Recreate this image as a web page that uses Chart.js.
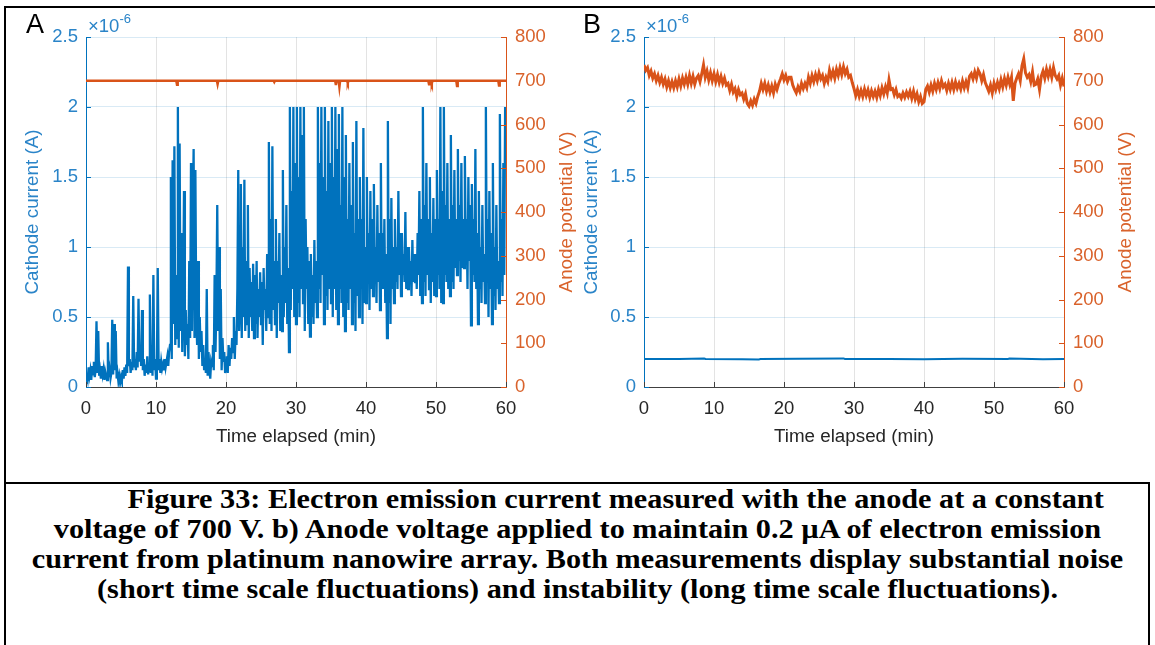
<!DOCTYPE html>
<html>
<head>
<meta charset="utf-8">
<script src="https://cdn.jsdelivr.net/npm/chart.js@4/dist/chart.umd.min.js"></script>
<style>
  html, body { margin: 0; padding: 0; background: #fff; }
  #page { position: relative; width: 1155px; height: 645px; overflow: hidden; background: #fff; }
  .rule { position: absolute; background: #000; }
  canvas { position: absolute; top: 0; }
  #chartA { left: 0; }
  #chartB { left: 560px; }
  #caption {
    position: absolute; left: 5px; top: 484px; width: 1145px;
    font-family: "Liberation Serif", "Times New Roman", serif;
    font-weight: bold; font-size: 27px; line-height: 30px;
    text-align: center; text-indent: 68px; color: #000;
    transform: scaleX(1.12); transform-origin: 50% 0;
  }
</style>
</head>
<body>
<div id="page">
  <div class="rule" style="left:5px; top:6px; width:1150px; height:2px;"></div>
  <div class="rule" style="left:4px; top:6px; width:2px; height:639px;"></div>
  <div class="rule" style="left:5px; top:482px; width:1145px; height:2px;"></div>
  <div class="rule" style="left:1148px; top:482px; width:2px; height:163px;"></div>
  <canvas id="chartA" width="600" height="470"></canvas>
  <canvas id="chartB" width="595" height="470"></canvas>
  <div id="caption">Figure 33: Electron emission current measured with the anode at a constant<br>voltage of 700 V. b) Anode voltage applied to maintain 0.2 µA of electron emission<br>current from platinum nanowire array. Both measurements display substantial noise<br>(short time scale fluctuations) and instability (long time scale fluctuations).</div>
</div>
<script>
// sampling interval of the cathode trace in A, minutes
var stepA = 0.125;
// sampling interval of the anode trace in B, minutes
var stepB = 0.25;

// tick values
var timeTicks = [0, 10, 20, 30, 40, 50, 60];
var currentTicks = [0, 0.5, 1, 1.5, 2, 2.5];
var voltageTicks = [0, 100, 200, 300, 400, 500, 600, 700, 800];

// A: cathode current (x1e-6 A) with the anode held at 700 V, one row per minute
var cathodeA = [
  0.03, 0.10, 0.06, 0.14, 0.08, 0.12, 0.05, 0.15,
  0.09, 0.18, 0.07, 0.12, 0.47, 0.10, 0.40, 0.08,
  0.12, 0.06, 0.15, 0.09, 0.13, 0.05, 0.11, 0.08,
  0.05, 0.32, 0.07, 0.12, 0.06, 0.10, 0.48, 0.09,
  0.45, 0.12, 0.40, 0.06, 0.10, 0.04, 0.08, 0.03,
  0.07, 0.04, 0.12, 0.06, 0.14, 0.08, 0.16, 0.10,
  0.86, 0.15, 0.20, 0.10, 0.18, 0.12, 0.65, 0.14,
  0.20, 0.12, 0.25, 0.14, 0.63, 0.18, 0.30, 0.15,
  0.55, 0.12, 0.20, 0.08, 0.16, 0.10, 0.22, 0.09,
  0.15, 0.66, 0.10, 0.25, 0.08, 0.80, 0.12, 0.20,
  0.06, 0.14, 0.85, 0.12, 0.20, 0.10, 0.18, 0.13,
  0.16, 0.12, 0.20, 0.14, 0.18, 0.22, 0.15, 0.25,
  0.30, 1.50, 0.20, 1.62, 0.45, 1.72, 0.30, 0.80,
  0.35, 2.00, 0.28, 1.74, 0.40, 1.10, 0.25, 0.60,
  1.40, 0.22, 0.55, 0.30, 0.45, 0.20, 0.90, 0.35,
  1.60, 0.40, 1.20, 1.70, 0.35, 1.55, 0.50, 0.30,
  0.90, 0.20, 0.50, 0.25, 0.40, 0.15, 0.30, 0.12,
  0.20, 0.10, 0.70, 0.08, 0.25, 0.12, 0.06, 0.18,
  0.15, 0.30, 0.12, 0.80, 0.25, 0.60, 1.30, 0.40,
  1.00, 0.20, 0.70, 0.12, 0.35, 0.18, 0.25, 0.10,
  0.14, 0.22, 0.10, 0.30, 0.15, 0.28, 0.20, 0.35,
  0.25, 0.50, 0.20, 0.40, 0.30, 0.70, 1.55, 0.40,
  0.60, 1.45, 0.35, 1.00, 0.50, 1.48, 0.40, 0.90,
  0.45, 1.30, 0.35, 0.85, 0.50, 0.75, 0.40, 0.88,
  0.35, 0.80, 0.45, 0.90, 0.35, 0.70, 0.50, 0.82,
  0.45, 0.75, 0.30, 0.85, 0.55, 0.70, 0.40, 0.95,
  0.50, 1.75, 0.45, 1.20, 0.40, 1.72, 0.55, 0.90,
  0.45, 1.20, 0.35, 0.90, 0.60, 1.10, 0.40, 0.80,
  0.40, 1.55, 0.50, 1.00, 0.60, 1.30, 0.45, 0.85,
  0.25, 2.00, 0.55, 1.40, 0.70, 2.00, 0.50, 1.60,
  0.45, 2.00, 0.60, 1.50, 0.50, 2.00, 0.70, 1.80,
  0.60, 2.00, 0.40, 1.20, 0.70, 1.00, 0.45, 0.90,
  0.36, 0.95, 0.50, 0.80, 0.45, 1.05, 0.60, 0.90,
  0.50, 2.00, 0.70, 1.60, 0.60, 2.00, 0.80, 1.50,
  0.45, 2.00, 0.65, 1.40, 0.55, 1.90, 0.70, 1.60,
  0.60, 2.00, 0.50, 1.50, 0.70, 2.00, 0.55, 1.70,
  0.45, 1.95, 0.70, 1.30, 0.60, 2.00, 0.50, 1.50,
  0.40, 1.80, 0.60, 1.20, 0.55, 1.60, 0.70, 1.30,
  0.45, 1.75, 0.60, 1.10, 0.40, 1.90, 0.65, 1.20,
  0.50, 1.50, 0.70, 1.20, 0.45, 1.85, 0.60, 1.00,
  0.60, 1.50, 0.75, 1.10, 0.55, 1.40, 0.70, 1.20,
  0.65, 1.45, 0.80, 1.00, 0.60, 1.30, 0.75, 1.10,
  0.55, 1.60, 0.70, 1.10, 0.70, 1.20, 0.60, 0.95,
  0.35, 1.90, 0.60, 1.20, 0.45, 1.35, 0.70, 1.00,
  0.60, 1.20, 0.75, 1.00, 0.70, 1.40, 0.80, 1.10,
  0.65, 1.10, 0.80, 0.95, 0.75, 1.25, 0.70, 1.00,
  0.70, 1.00, 0.80, 0.90, 0.65, 1.05, 0.75, 0.95,
  0.75, 0.95, 0.70, 1.10, 0.80, 1.40, 0.65, 1.20,
  0.60, 2.00, 0.75, 1.30, 0.65, 1.60, 0.80, 1.20,
  0.70, 1.50, 0.60, 1.10, 0.75, 1.35, 0.65, 1.20,
  0.65, 1.55, 0.80, 1.20, 0.70, 2.00, 0.60, 1.40,
  0.60, 2.00, 0.80, 1.30, 0.75, 1.60, 0.70, 1.20,
  0.65, 1.80, 0.75, 1.30, 0.70, 1.55, 0.85, 1.20,
  0.80, 1.70, 0.90, 1.30, 0.75, 1.60, 0.85, 1.20,
  0.85, 1.65, 0.95, 1.20, 0.70, 1.50, 0.90, 1.30,
  0.44, 1.45, 0.80, 1.20, 0.75, 1.70, 0.70, 1.10,
  0.45, 1.40, 0.70, 1.00, 0.60, 1.30, 0.75, 0.95,
  0.60, 2.00, 0.80, 1.20, 0.50, 1.40, 0.70, 1.10,
  0.45, 1.60, 0.65, 1.00, 0.55, 1.30, 0.70, 0.90,
  0.60, 1.95, 0.75, 1.20, 0.65, 1.60, 0.80, 2.00,
  1.55
];

// A: anode potential (V), flat at 700 apart from brief dips
var anodeTimeA = [0, 12.9, 13.0, 13.1, 18.7, 18.8, 18.9, 26.8, 26.9, 27.0, 35.6, 35.7, 35.8, 36.1, 36.2, 36.3,
  37.3, 37.4, 37.5, 48.9, 49.0, 49.1, 49.3, 49.4, 49.5, 52.9, 53.0, 53.1, 58.9, 59.0, 59.1, 60];
var anodeVoltA = [700, 700, 691, 700, 700, 692, 700, 700, 697, 700, 700, 690, 700, 700, 686, 700,
  700, 695, 700, 700, 692, 700, 700, 694, 700, 700, 688, 700, 700, 689, 700, 700];

// B: cathode current (x1e-6 A) held at 0.2
var cathodeTimeB = [0, 5, 8.6, 8.8, 14, 16.4, 16.6, 22, 28.5, 28.7, 35, 40, 45.5, 52, 52.2, 57, 60];
var cathodeB = [0.200, 0.200, 0.203, 0.200, 0.199, 0.196, 0.200, 0.201, 0.204, 0.200, 0.200, 0.199, 0.202, 0.200, 0.203, 0.199, 0.200];

// B: anode potential (V) needed to hold the current, one row per minute
var anodeB = [
  736, 724, 730, 712,
  722, 706, 716, 700,
  712, 696, 708, 692,
  704, 686, 700, 684,
  698, 684, 700, 686,
  704, 688, 706, 692,
  708, 692, 712, 694,
  710, 692, 706, 712,
  698, 716, 736, 708,
  722, 702, 718, 700,
  716, 698, 714, 696,
  710, 694, 706, 690,
  694, 678, 692, 674,
  682, 664, 680, 668,
  672, 658, 670, 648,
  642, 654, 644, 658,
  648, 664, 676, 694,
  680, 694, 676, 690,
  674, 688, 672, 692,
  680, 694, 704, 716,
  702, 712, 698, 708,
  708, 690, 680, 672,
  686, 676, 694, 682,
  694, 684, 708, 694,
  712, 698, 714, 700,
  718, 704, 712, 694,
  708, 698, 724, 708,
  722, 706, 726, 712,
  730, 714, 732, 716,
  726, 708, 712, 696,
  682, 666, 680, 664,
  678, 664, 681, 666,
  679, 662, 677, 664,
  676, 662, 680, 666,
  684, 670, 686, 672,
  702, 680, 682, 668,
  680, 664, 668, 660,
  672, 662, 674, 664,
  676, 660, 676, 658,
  670, 652, 664, 648,
  652, 680, 688, 674,
  690, 676, 694, 680,
  696, 682, 700, 686,
  692, 678, 694, 680,
  696, 680, 697, 683,
  694, 681, 699, 684,
  698, 684, 710, 716,
  704, 720, 706, 724,
  716, 700, 714, 696,
  686, 676, 690, 672,
  694, 680, 696, 682,
  702, 686, 705, 690,
  708, 692, 708, 654,
  694, 706, 716, 700,
  734, 750, 718, 708,
  714, 698, 720, 690,
  692, 704, 680, 710,
  722, 706, 726, 710,
  726, 708, 730, 712,
  704, 712, 690, 706,
  687
];

var blue = '#0072BD';
var blueText = '#2a84c8';
var orange = '#D95319';
var orangeText = '#d9622b';
var axisGray = '#404040';
var font = '"Liberation Sans", Arial, sans-serif';

function sampled(values, step) {
  return values.map(function (v, i) { return {x: i * step, y: v}; });
}
function paired(times, values) {
  return times.map(function (t, i) { return {x: t, y: values[i]}; });
}
function tickList(values) {
  return function (scale) { scale.ticks = values.map(function (v) { return {value: v}; }); };
}

// MATLAB-style inward tick marks, exponent note, panel letter and right-hand axis title
var decorations = {
  id: 'decorations',
  afterDraw: function (chart, args, opts) {
    var ctx = chart.ctx;
    var area = chart.chartArea;
    var sx = chart.scales.x, sl = chart.scales.yL, sr = chart.scales.yR;
    ctx.save();
    ctx.lineWidth = 1;
    ctx.strokeStyle = axisGray;
    timeTicks.forEach(function (t) {
      var px = Math.round(sx.getPixelForValue(t)) + 0.5;
      ctx.beginPath(); ctx.moveTo(px, area.bottom); ctx.lineTo(px, area.bottom - 5); ctx.stroke();
    });
    ctx.strokeStyle = blue;
    currentTicks.forEach(function (v) {
      var py = Math.round(sl.getPixelForValue(v)) + 0.5;
      ctx.beginPath(); ctx.moveTo(area.left, py); ctx.lineTo(area.left + 5, py); ctx.stroke();
    });
    ctx.strokeStyle = orange;
    voltageTicks.forEach(function (v) {
      var py = Math.round(sr.getPixelForValue(v)) + 0.5;
      ctx.beginPath(); ctx.moveTo(area.right, py); ctx.lineTo(area.right - 5, py); ctx.stroke();
    });

    ctx.fillStyle = blueText;
    ctx.textBaseline = 'alphabetic';
    ctx.textAlign = 'left';
    ctx.font = '18.5px ' + font;
    ctx.fillText('\u00d710', area.left + 2, 32);
    var w = ctx.measureText('\u00d710').width;
    ctx.font = '13px ' + font;
    ctx.fillText('-6', area.left + 2 + w, 23);

    ctx.fillStyle = '#000';
    ctx.font = '27px ' + font;
    ctx.fillText(opts.letter, opts.letterX, 33);

    ctx.fillStyle = orangeText;
    ctx.font = '18.8px ' + font;
    ctx.textAlign = 'center';
    ctx.textBaseline = 'middle';
    ctx.translate(opts.rightTitleX, (area.top + area.bottom) / 2);
    ctx.rotate(-Math.PI / 2);
    ctx.fillText('Anode potential (V)', 0, 0);
    ctx.restore();
  }
};

function makePanel(canvasId, p) {
  return new Chart(document.getElementById(canvasId), {
    type: 'line',
    data: {
      datasets: [{
        label: 'Anode potential',
        data: p.anode,
        yAxisID: 'yR',
        borderColor: orange,
        borderWidth: p.anodeWidth,
        pointRadius: 0,
        tension: 0,
        order: 0
      }, {
        label: 'Cathode current',
        data: p.cathode,
        yAxisID: 'yL',
        borderColor: blue,
        borderWidth: p.cathodeWidth,
        pointRadius: 0,
        tension: 0,
        order: 1
      }]
    },
    options: {
      responsive: false,
      animation: false,
      parsing: false,
      normalized: true,
      layout: {padding: {left: 0, right: 0, top: 37, bottom: 0}},
      plugins: {
        legend: {display: false},
        tooltip: {enabled: false},
        decorations: {letter: p.letter, letterX: p.letterX, rightTitleX: p.rightTitleX}
      },
      scales: {
        x: {
          type: 'linear', min: 0, max: 60,
          afterBuildTicks: tickList(timeTicks),
          afterFit: function (s) { s.height = 83; },
          grid: {color: 'rgba(38,38,38,0.13)', drawTicks: false},
          border: {color: axisGray, width: 1},
          ticks: {color: '#262626', font: {family: font, size: 18.5}, padding: 11, autoSkip: false, maxRotation: 0},
          title: {display: true, text: 'Time elapsed (min)', color: '#262626', font: {family: font, size: 18.8},
                  padding: {top: 0, bottom: 21.7}}
        },
        yL: {
          type: 'linear', position: 'left', min: 0, max: 2.5,
          afterBuildTicks: tickList(currentTicks),
          afterFit: function (s) { s.width = p.leftWidth; },
          grid: {color: 'rgba(0,114,189,0.15)', drawTicks: false},
          border: {color: blue, width: 1},
          ticks: {color: blueText, font: {family: font, size: 18.5}, padding: 8,
                  callback: function (v) { return String(v); }},
          title: {display: true, text: 'Cathode current (A)', color: blueText, font: {family: font, size: 18.8},
                  padding: {top: p.leftTitlePad, bottom: 0}}
        },
        yR: {
          type: 'linear', position: 'right', min: 0, max: 800,
          afterBuildTicks: tickList(voltageTicks),
          afterFit: function (s) { s.width = p.rightWidth; },
          grid: {drawOnChartArea: false, drawTicks: false},
          border: {color: orange, width: 1},
          ticks: {color: orangeText, font: {family: font, size: 18.5}, padding: 9}
        }
      }
    },
    plugins: [decorations]
  });
}

makePanel('chartA', {
  cathode: sampled(cathodeA, stepA),
  anode: paired(anodeTimeA, anodeVoltA),
  cathodeWidth: 2.3,
  anodeWidth: 2.5,
  letter: 'A', letterX: 26,
  leftWidth: 86, rightWidth: 94,
  leftTitlePad: 21.7, rightTitleX: 567
});

makePanel('chartB', {
  cathode: paired(cathodeTimeB, cathodeB),
  anode: sampled(anodeB, stepB),
  cathodeWidth: 2,
  anodeWidth: 3,
  letter: 'B', letterX: 23,
  leftWidth: 84, rightWidth: 91,
  leftTitlePad: 20.7, rightTitleX: 566
});
</script>
</body>
</html>
